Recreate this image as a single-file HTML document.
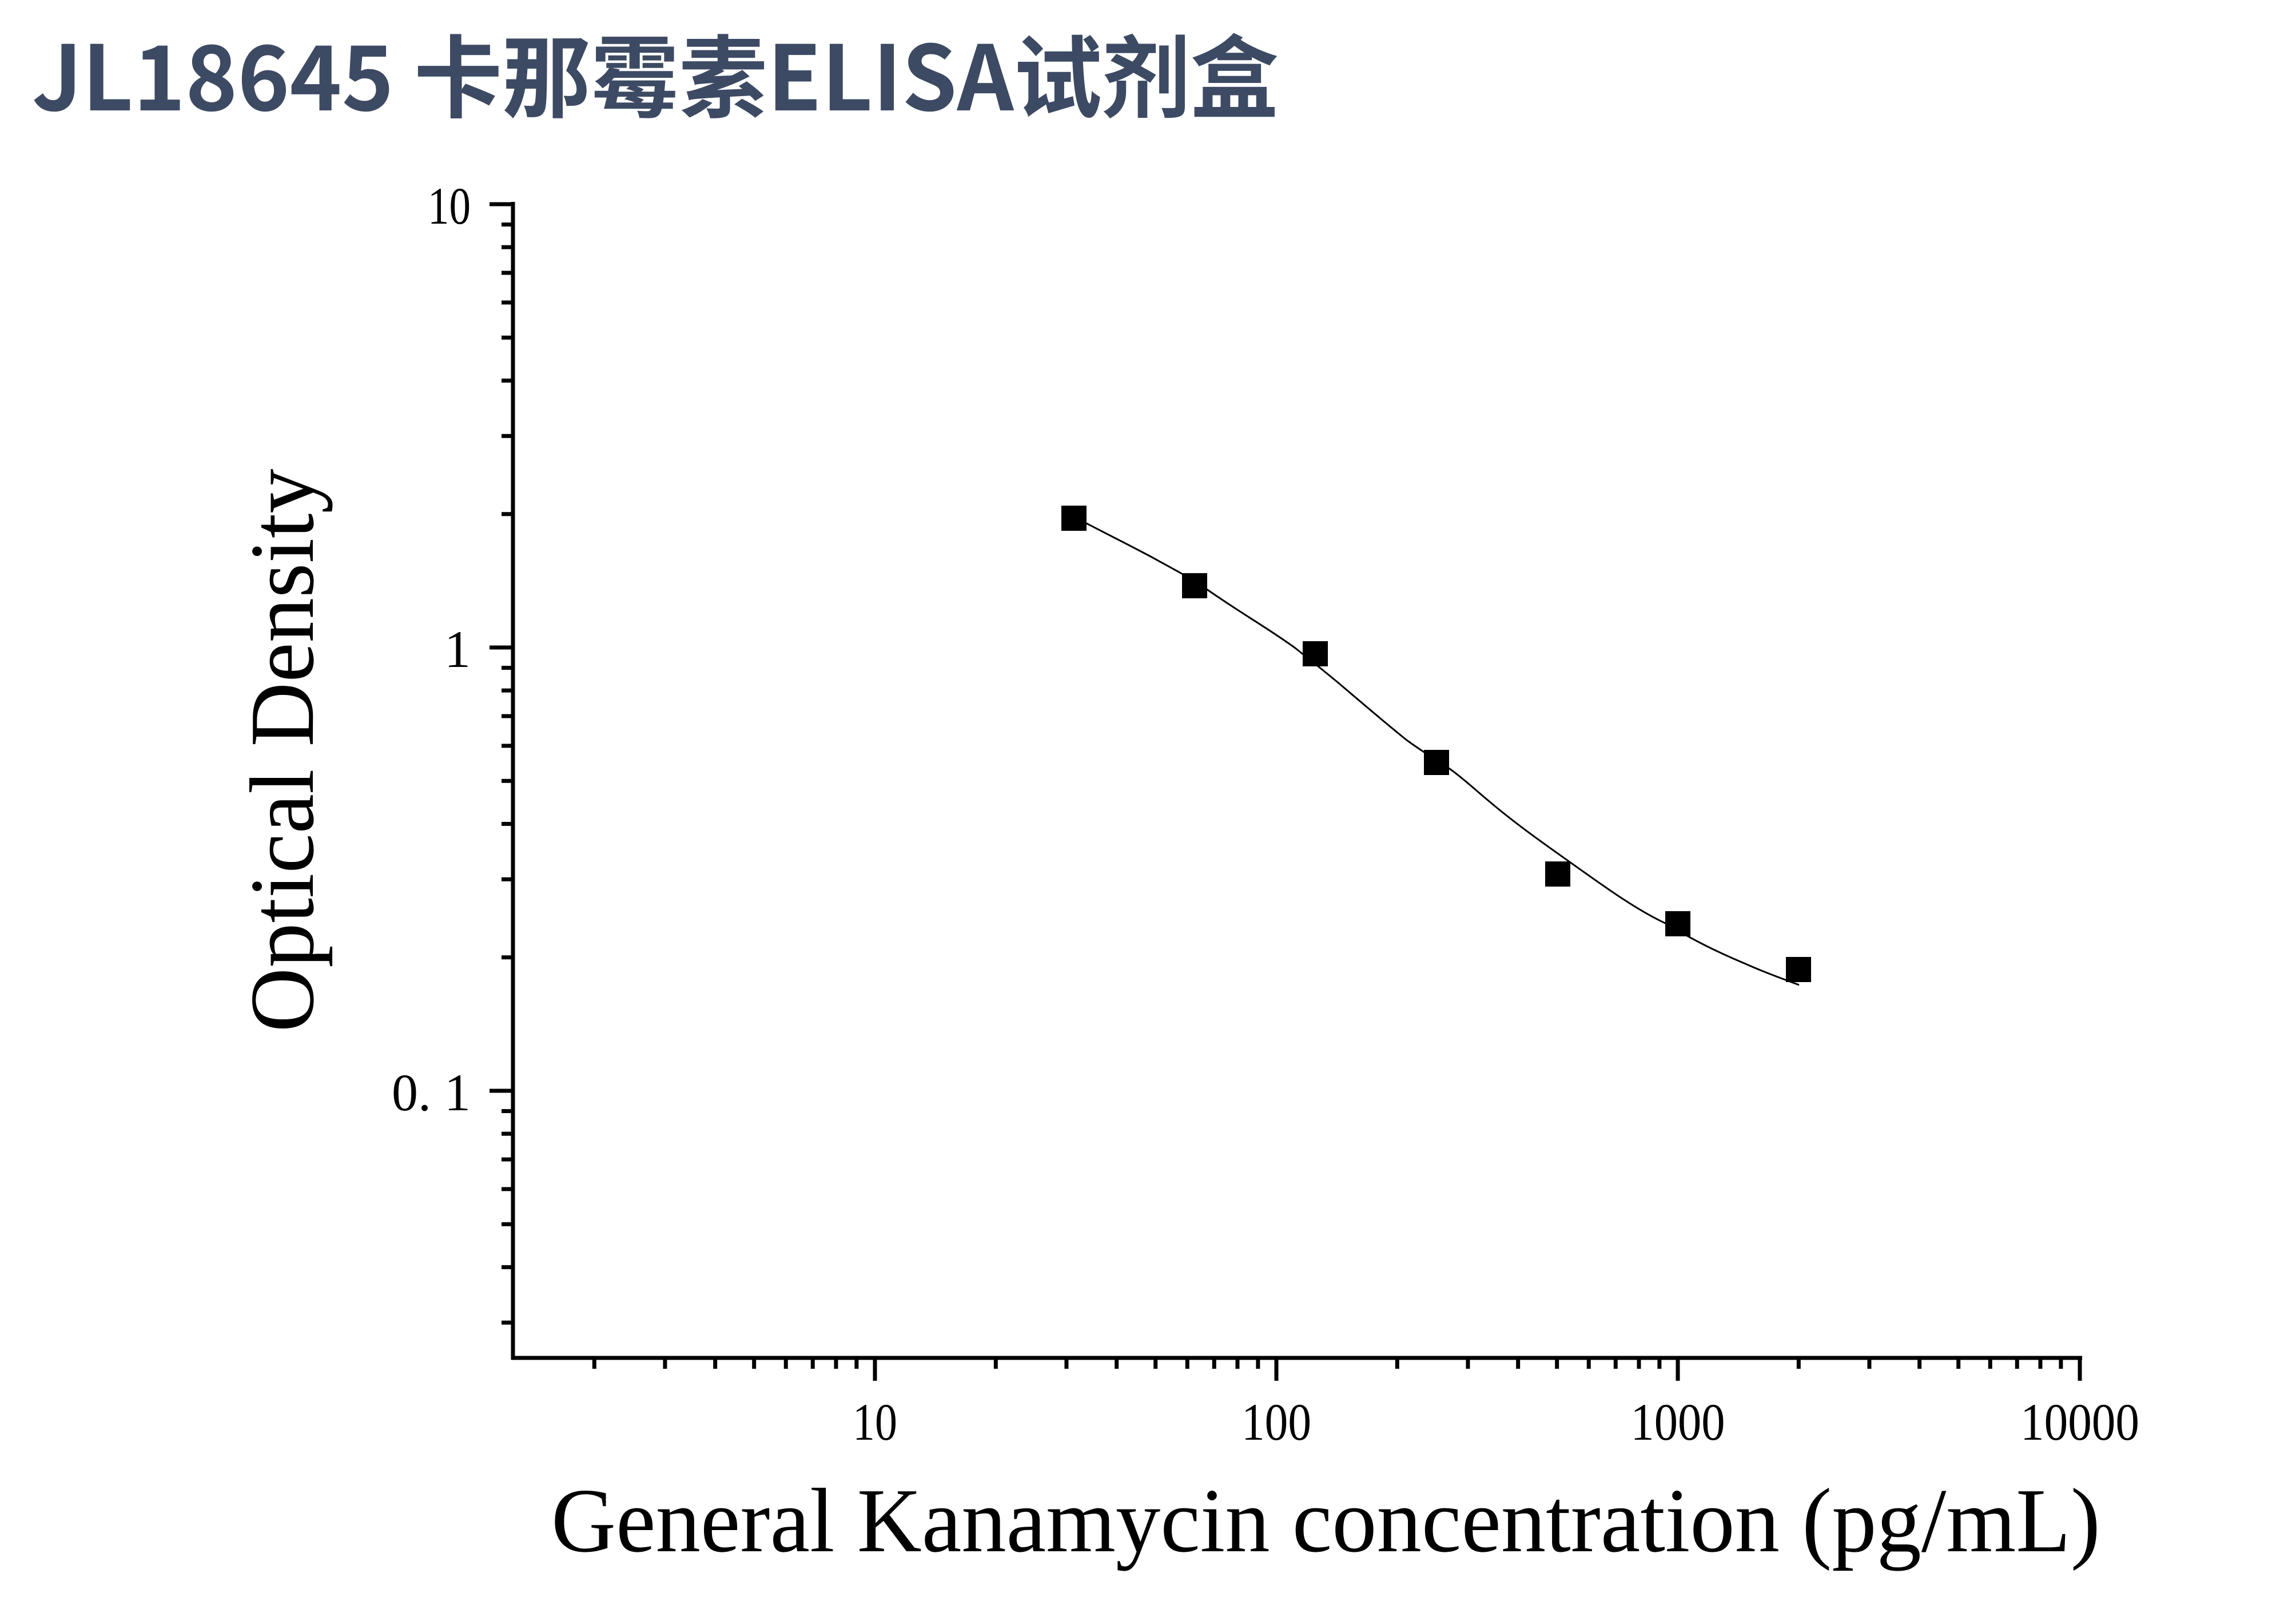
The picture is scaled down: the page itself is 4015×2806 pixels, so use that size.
<!DOCTYPE html>
<html><head><meta charset="utf-8"><style>
html,body{margin:0;padding:0;background:#fff;}
svg{display:block;}
</style></head><body>
<svg width="4015" height="2806" viewBox="0 0 4015 2806" xmlns="http://www.w3.org/2000/svg">
<rect width="4015" height="2806" fill="#fff"/>
<text x="56" y="193" font-family="'Noto Sans CJK SC','Liberation Sans',sans-serif" font-weight="bold" font-size="157" fill="#3d4a63" textLength="2180" lengthAdjust="spacingAndGlyphs">JL18645 卡那霉素ELISA试剂盒</text>
<g stroke="#000" stroke-width="7" fill="none">
<line x1="897" y1="353" x2="897" y2="2377"/>
<line x1="894" y1="2374" x2="3641" y2="2374"/>
<line x1="3637" y1="2374" x2="3637" y2="2414"/>
</g>
<g id="ticks" stroke="#000" stroke-width="7"></g>
<g font-family="'Liberation Serif',serif" font-size="92" fill="#000">
<text x="823" y="391" text-anchor="end" textLength="75" lengthAdjust="spacingAndGlyphs">10</text>
<text x="823" y="1166" text-anchor="end">1</text>
<text x="823" y="1941" text-anchor="end">0. 1</text>
<text x="1530" y="2517" text-anchor="middle" textLength="78" lengthAdjust="spacingAndGlyphs">10</text>
<text x="2232" y="2517" text-anchor="middle" textLength="122" lengthAdjust="spacingAndGlyphs">100</text>
<text x="2934" y="2517" text-anchor="middle" textLength="165" lengthAdjust="spacingAndGlyphs">1000</text>
<text x="3637" y="2517" text-anchor="middle" textLength="208" lengthAdjust="spacingAndGlyphs">10000</text>
</g>
<text transform="translate(547,1312) rotate(-90)" x="0" y="0" text-anchor="middle" font-family="'Liberation Serif',serif" font-size="160" textLength="985" lengthAdjust="spacingAndGlyphs">Optical Density</text>
<text x="964" y="2712" font-family="'Liberation Serif',serif" font-size="160" textLength="2709" lengthAdjust="spacingAndGlyphs">General Kanamycin concentration (pg/mL)</text>
<path d="M1878,903 C1890,909 1895,912 1900,915 C1940,936 1975,953 2014,974 C2050,994 2080,1009 2110,1030 C2170,1072 2220,1100 2265,1133 C2295,1157 2322,1178 2350,1202 C2390,1236 2425,1266 2460,1294 C2490,1316 2510,1327 2535,1344 C2560,1362 2580,1381 2603,1400 C2650,1440 2700,1475 2745,1507 C2800,1546 2860,1590 2912,1614 C2960,1643 3000,1663 3050,1684 C3090,1702 3120,1712 3146,1722" stroke="#000" stroke-width="3" fill="none"/>
<g fill="#000">
<rect x="1856" y="884" width="44" height="44"/>
<rect x="2067" y="1002" width="44" height="44"/>
<rect x="2278" y="1121" width="44" height="44"/>
<rect x="2490" y="1311" width="44" height="44"/>
<rect x="2702" y="1506" width="44" height="44"/>
<rect x="2912" y="1593" width="44" height="44"/>
<rect x="3123" y="1673" width="44" height="44"/>
</g>
<script>
(function(){
var g=document.getElementById('ticks'),ns='http://www.w3.org/2000/svg';
function L(x1,y1,x2,y2){var l=document.createElementNS(ns,'line');l.setAttribute('x1',x1);l.setAttribute('y1',y1);l.setAttribute('x2',x2);l.setAttribute('y2',y2);g.appendChild(l);}
function Y(v){return 1132-775*Math.log10(v);}
function X(v){return 1530+702*(Math.log10(v)-1);}
[10,1,0.1].forEach(function(v){L(856,Y(v),897,Y(v));});
[1,0.1,0.01].forEach(function(d){for(var k=2;k<=9;k++){var y=Y(d*k);if(y>360&&y<2370)L(877,y,897,y);}});
[10,100,1000].forEach(function(v){L(X(v),2374,X(v),2414);});
[1,10,100,1000].forEach(function(d){for(var k=2;k<=9;k++){var x=X(d*k);if(x>900&&x<3635)L(x,2374,x,2393);}});
})();
</script>
</svg>
</body></html>
